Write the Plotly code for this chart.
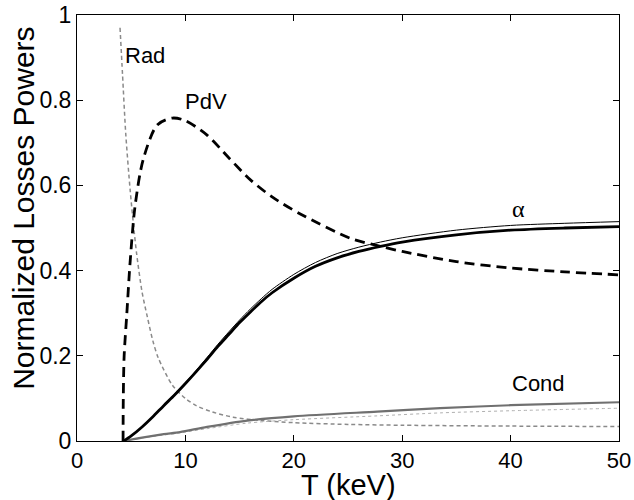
import plotly.graph_objects as go

# Alpha heating (thick) and second alpha curve (thin)
alpha_T = [4.3, 5, 6, 7, 8, 9, 10, 11, 12, 13, 14, 15, 16, 17, 18, 20, 22, 24, 26, 28, 30, 35, 40, 45, 50]
alpha_P = [0.0, 0.012, 0.033, 0.057, 0.083, 0.108, 0.135, 0.163, 0.192, 0.222, 0.25, 0.278, 0.303, 0.327, 0.348, 0.382, 0.41, 0.43, 0.445, 0.457, 0.467, 0.484, 0.495, 0.5, 0.503]
alpha2_P = [0.0, 0.012, 0.033, 0.057, 0.084, 0.11, 0.137, 0.166, 0.196, 0.227, 0.256, 0.284, 0.31, 0.334, 0.356, 0.391, 0.419, 0.44, 0.455, 0.467, 0.477, 0.495, 0.506, 0.511, 0.515]

# PdV losses
pdv_T = [4.25, 4.27, 4.35, 4.6, 4.9, 5.35, 6.1, 7.4, 8.8, 10, 12, 14, 16, 18, 20.6, 25.2, 28, 30, 35, 40, 45, 50]
pdv_P = [0.0, 0.1, 0.2, 0.3, 0.42, 0.55, 0.66, 0.742, 0.758, 0.752, 0.718, 0.665, 0.613, 0.573, 0.533, 0.476, 0.457, 0.445, 0.421, 0.406, 0.397, 0.39]

# Radiation losses
rad_T = [3.97, 4.2, 4.5, 4.9, 5.2, 5.5, 6.0, 6.5, 7.0, 7.5, 8.8, 10, 11, 12.5, 14.4, 17, 20, 25, 30, 40, 50]
rad_P = [0.97, 0.86, 0.72, 0.59, 0.51, 0.44, 0.35, 0.29, 0.235, 0.195, 0.131, 0.1, 0.083, 0.068, 0.056, 0.048, 0.043, 0.039, 0.037, 0.035, 0.034]

# Conduction losses (two curves)
cond_T = [4.3, 6, 8, 9.5, 12, 15.7, 20, 27.7, 33.5, 40, 50]
cond_P = [0.0, 0.008, 0.016, 0.021, 0.033, 0.048, 0.058, 0.069, 0.077, 0.084, 0.091]
cond2_P = [0.0, 0.007, 0.014, 0.019, 0.029, 0.042, 0.05, 0.059, 0.066, 0.071, 0.077]

x_ticks = [0, 10, 20, 30, 40, 50]
y_ticks = [0, 0.2, 0.4, 0.6, 0.8, 1]

labels = [("Rad", 6.3, 0.906), ("PdV", 11.9, 0.798), ("Cond", 42.6, 0.136)]
alpha_label = ("α", 40.7, 0.545)
x_title = "T (keV)"
y_title = "Normalized Losses Powers"

FONT = "Liberation Sans, Arial, Helvetica"

fig = go.Figure()
fig.add_trace(go.Scatter(x=rad_T, y=rad_P, mode="lines", line=dict(color="#8a8a8a", width=1.5, dash="4px,3px", shape="spline", smoothing=0.8)))
fig.add_trace(go.Scatter(x=cond_T, y=cond2_P, mode="lines", line=dict(color="#b0b0b0", width=1, dash="dot", shape="spline", smoothing=0.8)))
fig.add_trace(go.Scatter(x=cond_T, y=cond_P, mode="lines", line=dict(color="#707070", width=2.2, shape="spline", smoothing=0.8)))
fig.add_trace(go.Scatter(x=alpha_T, y=alpha2_P, mode="lines", line=dict(color="black", width=1, shape="spline", smoothing=0.8)))
fig.add_trace(go.Scatter(x=alpha_T, y=alpha_P, mode="lines", line=dict(color="black", width=2.8, shape="spline", smoothing=0.8)))
fig.add_trace(go.Scatter(x=pdv_T, y=pdv_P, mode="lines", line=dict(color="black", width=2.8, dash="10px,6px", shape="spline", smoothing=0.8)))

for txt, xv, yv in labels:
    fig.add_annotation(x=xv, y=yv, text=txt, showarrow=False, xref="x", yref="y",
                       font=dict(size=22, color="black", family=FONT))
fig.add_annotation(x=alpha_label[1], y=alpha_label[2], text=alpha_label[0], showarrow=False, xref="x", yref="y",
                   font=dict(size=24, color="black", family="Liberation Serif, Times New Roman"))

# axis titles placed as in the reference
fig.add_annotation(x=0.5, y=-0.103, xref="paper", yref="paper", text=x_title, showarrow=False,
                   xanchor="center", yanchor="middle", font=dict(size=29, color="black", family=FONT))
fig.add_annotation(x=-0.098, y=0.547, xref="paper", yref="paper", text=y_title, showarrow=False,
                   textangle=-90, xanchor="center", yanchor="middle", font=dict(size=30, color="black", family=FONT))

fig.update_layout(
    width=634, height=500,
    margin=dict(l=77, r=15, t=15, b=59),
    paper_bgcolor="white", plot_bgcolor="white",
    showlegend=False,
    font=dict(family=FONT, color="black"),
)
fig.update_xaxes(range=[0, 50], tickvals=x_ticks, ticks="inside", ticklen=6, tickcolor="black",
                 showline=True, linecolor="black", linewidth=1, mirror="ticks", showgrid=False, zeroline=False,
                 automargin=False, tickfont=dict(size=22))
fig.update_yaxes(range=[0, 1], tickvals=y_ticks, ticks="inside", ticklen=6, tickcolor="black",
                 showline=True, linecolor="black", linewidth=1, mirror="ticks", showgrid=False, zeroline=False,
                 automargin=False, tickfont=dict(size=23))

fig.write_html("out.html")
